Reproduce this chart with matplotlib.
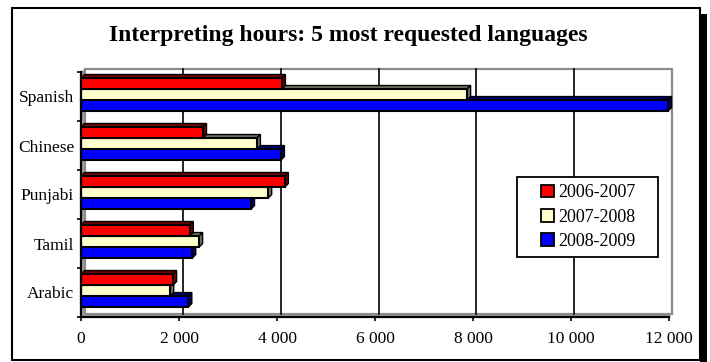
import matplotlib
matplotlib.use("Agg")
import matplotlib.pyplot as plt
from matplotlib.patches import Polygon, Rectangle, Patch
from matplotlib.ticker import FuncFormatter, FixedLocator

plt.rcParams['font.family'] = ['Liberation Serif', 'DejaVu Serif']

languages = ["Arabic", "Tamil", "Punjabi", "Chinese", "Spanish"]
seasons = ["2006-2007", "2007-2008", "2008-2009"]
hours_0607 = [1880, 2220, 4160, 2490, 4100]
hours_0708 = [1820, 2410, 3820, 3590, 7880]
hours_0809 = [2190, 2270, 3470, 4080, 11980]
series = [hours_0607, hours_0708, hours_0809]

face_colors = ["#ff0000", "#ffffcc", "#0000ff"]
side_colors = ["#700000", "#707060", "#000070"]

W, H = 710, 362
fig = plt.figure(figsize=(W / 100, H / 100), dpi=100)

# plot area in pixels (front axes)
left, right, top, bottom = 81, 669, 72, 317
ax = fig.add_axes([left / W, (H - bottom) / H, (right - left) / W, (bottom - top) / H])
xmax, ncat = 12000, len(languages)
ax.set_xlim(0, xmax)
ax.set_ylim(0, ncat)

depth = 3.5  # px
dx = depth * xmax / (right - left)
dy = depth * ncat / (bottom - top)

# back wall, left wall and floor
ax.add_patch(Polygon([(0, 0), (0, ncat), (dx, ncat + dy), (dx, dy)],
                     closed=True, fc="#a0a0a0", ec="none", zorder=0, clip_on=False))
ax.add_patch(Polygon([(0, 0), (xmax, 0), (xmax + dx, dy), (dx, dy)],
                     closed=True, fc="#a0a0a0", ec="none", zorder=0, clip_on=False))
ax.add_patch(Rectangle((dx, dy), xmax, ncat, fc="white", ec="#8c8c8c", lw=1.6,
                       zorder=0.5, clip_on=False))
for gx in range(2000, xmax, 2000):
    ax.plot([gx + dx, gx + dx], [dy, ncat + dy], color="black", lw=1.2,
            zorder=1, clip_on=False)

bar_h = 0.225
shift = 0.04
# draw bottom bar first so the bar above hides its top face
for k in [2, 1, 0]:
    vals = series[k]
    ys = [i + 0.5 + shift + (1 - k) * bar_h for i in range(ncat)]
    for y, v in zip(ys, vals):
        y0, y1 = y - bar_h / 2, y + bar_h / 2
        z = 2 + (2 - k)
        ax.add_patch(Polygon([(0, y1), (dx, y1 + dy), (v + dx, y1 + dy), (v, y1)],
                             closed=True, fc=side_colors[k], ec="black", lw=1.0,
                             zorder=z, clip_on=False))
        ax.add_patch(Polygon([(v, y0), (v, y1), (v + dx, y1 + dy), (v + dx, y0 + dy)],
                             closed=True, fc=side_colors[k], ec="black", lw=1.0,
                             zorder=z, clip_on=False))
    ax.barh(ys, vals, height=bar_h, color=face_colors[k], edgecolor="black",
            linewidth=1.5, zorder=2.5 + (2 - k), clip_on=False)

for side in ["top", "right"]:
    ax.spines[side].set_visible(False)
for side in ["left", "bottom"]:
    ax.spines[side].set_linewidth(1.6)
    ax.spines[side].set_zorder(6)
ax.set_facecolor("none")

ax.xaxis.set_major_locator(FixedLocator(range(0, xmax + 1, 2000)))
ax.xaxis.set_major_formatter(FuncFormatter(lambda v, p: f"{v:,.0f}".replace(",", " ")))
ax.tick_params(axis="x", direction="out", length=3, width=1.2, pad=7, labelsize=12.5)

ax.yaxis.set_major_locator(FixedLocator(range(ncat + 1)))
ax.yaxis.set_minor_locator(FixedLocator([i + 0.5 for i in range(ncat)]))
ax.yaxis.set_major_formatter(FuncFormatter(lambda v, p: ""))
ax.yaxis.set_minor_formatter(FuncFormatter(lambda v, p: languages[int(v)]))
ax.tick_params(axis="y", which="major", direction="out", length=3, width=1.2)
ax.tick_params(axis="y", which="minor", length=0, pad=5, labelsize=12.5)

# legend box, then the entries inside it
lx0, lx1, ly0, ly1 = 517, 658, 177, 257
fig.add_artist(Rectangle((lx0 / W, 1 - ly1 / H), (lx1 - lx0) / W, (ly1 - ly0) / H,
                         transform=fig.transFigure, fc="white", ec="black", lw=1.3,
                         zorder=9))
handles = [Patch(fc=c, ec="black", lw=1.3) for c in face_colors]
leg = fig.legend(handles, seasons, loc="center",
                 bbox_to_anchor=((lx0 + lx1) / 2 / W + 1 / W, 1 - (ly0 + ly1) / 2 / H),
                 fontsize=13, frameon=False,
                 handlelength=0.7, handleheight=0.7, handletextpad=0.25,
                 labelspacing=0.4, borderpad=0.3, borderaxespad=0)
leg.set_zorder(10)

fig.text(348 / W, 1 - 36 / H, "Interpreting hours: 5 most requested languages",
         ha="center", va="center", fontsize=17, fontweight="bold")

# chart border with its drop shadow
fig.add_artist(Rectangle((700 / W, 0), 7 / W, (H - 14) / H, transform=fig.transFigure,
                         fc="black", ec="none"))
fig.add_artist(Rectangle((12 / W, 2 / H), 688 / W, (360 - 8) / H, transform=fig.transFigure,
                         fc="none", ec="black", lw=1.5))

fig.savefig("out.png", dpi=100)
